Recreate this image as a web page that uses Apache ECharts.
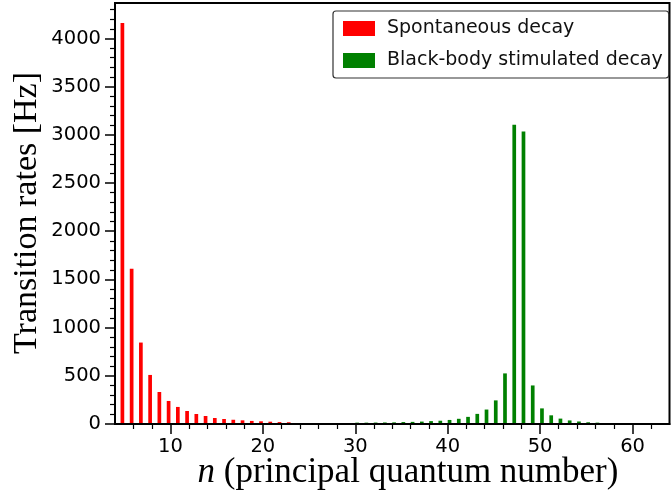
<!DOCTYPE html>
<html>
<head>
<meta charset="utf-8">
<script src="https://cdn.jsdelivr.net/npm/echarts@6/dist/echarts.min.js"></script>
<style>
  html, body { margin: 0; padding: 0; background: #fff; }
  #chart { width: 671px; height: 498px; }
</style>
</head>
<body>
<div id="chart"></div>
<script>
// Spontaneous decay rates by principal quantum number n
const spontN = [5, 6, 7, 8, 9, 10, 11, 12, 13, 14, 15, 16, 17, 18, 19, 20, 21, 22, 23];
const spontRate = [4160, 1610, 845, 509, 332, 239, 177, 135, 104, 83, 62, 52, 44, 38, 32, 28, 24, 20, 18];

// Black-body stimulated decay rates by n
const bbN = [30, 31, 32, 33, 34, 35, 36, 37, 38, 39, 40, 41, 42, 43, 44, 45, 46, 47, 48, 49, 50, 51, 52, 53, 54, 55, 56];
const bbRate = [14, 14, 15, 16, 17, 20, 22, 25, 30, 34, 42, 54, 74, 105, 150, 245, 525, 3105, 3035, 400, 162, 90, 56, 37, 26, 18, 14];

// Axis ranges and ticks
const xMin = 4, xMax = 64;
const yMin = 0, yMax = 4368;
const xMajor = [10, 20, 30, 40, 50, 60];
const xMinor = [6, 8, 12, 14, 16, 18, 22, 24, 26, 28, 32, 34, 36, 38, 42, 44, 46, 48, 52, 54, 56, 58, 62];
const yMajor = [0, 500, 1000, 1500, 2000, 2500, 3000, 3500, 4000];
const yMinor = [];
for (let v = 100; v <= 4300; v += 100) if (v % 500 !== 0) yMinor.push(v);

const BAR_W = 0.4;   // bar width in units of n
const TICK_FONT = 'DejaVu Sans';
const SERIF = 'Liberation Serif';

function barRenderer(offset) {
  return function (params, api) {
    const n = api.value(0), v = api.value(1);
    const a = api.coord([n + offset, v]);
    const b = api.coord([n + offset + BAR_W, 0]);
    return {
      type: 'rect',
      shape: { x: a[0], y: a[1], width: b[0] - a[0], height: b[1] - a[1] },
      style: api.style()
    };
  };
}

const chart = echarts.init(document.getElementById('chart'), null, { renderer: 'canvas' });

const axisLineStyle = { color: '#000', width: 2 };
const plainNumber = (v) => String(v);

chart.setOption({
  animation: false,
  backgroundColor: '#fff',
  grid: {
    left: 115, right: 1.5, top: 3, bottom: 74,
    show: true, borderColor: '#000', borderWidth: 2, backgroundColor: 'transparent'
  },
  legend: {
    orient: 'vertical',
    left: 333, top: 11,
    padding: [8, 6, 8, 10],
    itemWidth: 32, itemHeight: 15, itemGap: 13,
    icon: 'rect',
    borderColor: '#333', borderWidth: 1.2, borderRadius: 3,
    backgroundColor: '#fff',
    textStyle: { fontFamily: TICK_FONT, fontSize: 19, color: '#111', padding: [0, 0, 0, 7], lineHeight: 19 },
    data: ['Spontaneous decay', 'Black-body stimulated decay']
  },
  xAxis: [
    {
      type: 'value', min: xMin, max: xMax, position: 'bottom', z: 3,
      axisLine: { show: true, onZero: false, lineStyle: axisLineStyle },
      axisTick: { show: true, customValues: xMajor, length: 10, lineStyle: { color: '#000', width: 1.5 } },
      axisLabel: { show: true, customValues: xMajor, formatter: plainNumber, fontFamily: TICK_FONT, fontSize: 19.5, color: '#000', margin: 13 },
      splitLine: { show: false }
    },
    {
      type: 'value', min: xMin, max: xMax, position: 'bottom', z: 3,
      axisLine: { show: false },
      axisTick: { show: true, customValues: xMinor, length: 5, lineStyle: { color: '#000', width: 1.2 } },
      axisLabel: { show: false },
      splitLine: { show: false }
    }
  ],
  yAxis: [
    {
      type: 'value', min: yMin, max: yMax, position: 'left', z: 3,
      axisLine: { show: true, onZero: false, lineStyle: axisLineStyle },
      axisTick: { show: true, customValues: yMajor, length: 10, lineStyle: { color: '#000', width: 1.5 } },
      axisLabel: { show: true, customValues: yMajor, formatter: plainNumber, fontFamily: TICK_FONT, fontSize: 19.5, color: '#000', margin: 14 },
      splitLine: { show: false }
    },
    {
      type: 'value', min: yMin, max: yMax, position: 'left', z: 3,
      axisLine: { show: false },
      axisTick: { show: true, customValues: yMinor, length: 5, lineStyle: { color: '#000', width: 1.2 } },
      axisLabel: { show: false },
      splitLine: { show: false }
    }
  ],
  graphic: [
    {
      type: 'text', x: 27, y: 213, rotation: Math.PI / 2,
      style: {
        text: 'Transition rates [Hz]',
        font: '34px "' + SERIF + '"',
        fill: '#000', align: 'center', verticalAlign: 'middle'
      }
    },
    {
      type: 'text', x: 408, y: 473,
      style: {
        text: '{i|n} (principal quantum number)',
        font: '35px "' + SERIF + '"',
        fill: '#000', align: 'center', verticalAlign: 'middle',
        rich: { i: { fontFamily: SERIF, fontStyle: 'italic', fontSize: 35 } }
      }
    }
  ],
  series: [
    {
      name: 'Spontaneous decay',
      type: 'custom',
      xAxisIndex: 0, yAxisIndex: 0,
      itemStyle: { color: '#ff0000' },
      renderItem: barRenderer(-BAR_W),
      encode: { x: 0, y: 1 },
      clip: true, z: 1,
      data: spontN.map((n, i) => [n, spontRate[i]])
    },
    {
      name: 'Black-body stimulated decay',
      type: 'custom',
      xAxisIndex: 0, yAxisIndex: 0,
      itemStyle: { color: '#008000' },
      renderItem: barRenderer(0),
      encode: { x: 0, y: 1 },
      clip: true, z: 1,
      data: bbN.map((n, i) => [n, bbRate[i]])
    }
  ]
});
</script>
</body>
</html>
